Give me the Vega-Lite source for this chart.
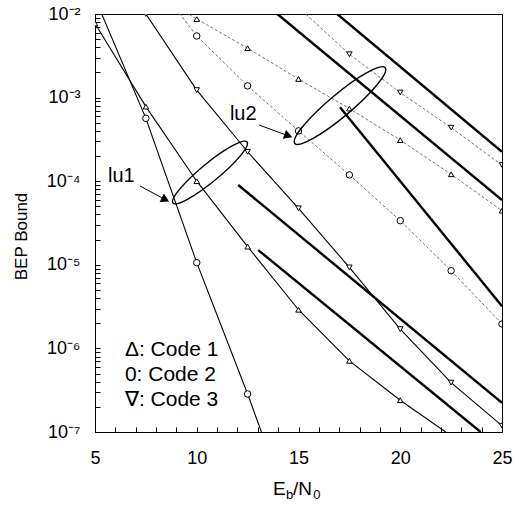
{
  "$schema": "https://vega.github.io/schema/vega-lite/v6.json",
  "width": 407,
  "height": 418,
  "autosize": "none",
  "padding": {"left": 95, "top": 14, "right": 17, "bottom": 76},
  "background": "white",
  "config": {
    "view": {"stroke": "black", "strokeWidth": 1},
    "font": "Liberation Sans",
    "axis": {"grid": false, "domainColor": "black", "tickColor": "black", "labelColor": "black", "titleColor": "black", "labelFont": "Liberation Sans", "titleFont": "Liberation Sans", "labelFontSize": 18, "tickSize": -5, "labelPadding": 20}
  },
  "datasets": {
    "curves": [
      {"s": "thin1", "grp": "thin", "code": "Code 1", "x": 5, "y": 0.0077},
      {"s": "thin1", "grp": "thin", "code": "Code 1", "x": 7.5, "y": 0.00078},
      {"s": "thin1", "grp": "thin", "code": "Code 1", "x": 10, "y": 0.0001},
      {"s": "thin1", "grp": "thin", "code": "Code 1", "x": 12.5, "y": 1.65e-5},
      {"s": "thin1", "grp": "thin", "code": "Code 1", "x": 15, "y": 2.9e-6},
      {"s": "thin1", "grp": "thin", "code": "Code 1", "x": 17.5, "y": 7.1e-7},
      {"s": "thin1", "grp": "thin", "code": "Code 1", "x": 20, "y": 2.4e-7},
      {"s": "thin1", "grp": "thin", "code": "Code 1", "x": 22.5, "y": 9e-8},
      {"s": "thin2", "grp": "thin", "code": "Code 2", "x": 5, "y": 0.0155},
      {"s": "thin2", "grp": "thin", "code": "Code 2", "x": 7.5, "y": 0.000565},
      {"s": "thin2", "grp": "thin", "code": "Code 2", "x": 10, "y": 1.06e-5},
      {"s": "thin2", "grp": "thin", "code": "Code 2", "x": 12.5, "y": 2.85e-7},
      {"s": "thin2", "grp": "thin", "code": "Code 2", "x": 15, "y": 6e-9},
      {"s": "thin3", "grp": "thin", "code": "Code 3", "x": 7.5, "y": 0.01},
      {"s": "thin3", "grp": "thin", "code": "Code 3", "x": 10, "y": 0.00123},
      {"s": "thin3", "grp": "thin", "code": "Code 3", "x": 12.5, "y": 0.000225},
      {"s": "thin3", "grp": "thin", "code": "Code 3", "x": 15, "y": 4.74e-5},
      {"s": "thin3", "grp": "thin", "code": "Code 3", "x": 17.5, "y": 9.3e-6},
      {"s": "thin3", "grp": "thin", "code": "Code 3", "x": 20, "y": 1.7e-6},
      {"s": "thin3", "grp": "thin", "code": "Code 3", "x": 22.5, "y": 3.9e-7},
      {"s": "thin3", "grp": "thin", "code": "Code 3", "x": 25, "y": 1.19e-7},
      {"s": "gray1", "grp": "gray", "code": "Code 1", "x": 7.5, "y": 0.02},
      {"s": "gray1", "grp": "gray", "code": "Code 1", "x": 10, "y": 0.0087},
      {"s": "gray1", "grp": "gray", "code": "Code 1", "x": 12.5, "y": 0.0039},
      {"s": "gray1", "grp": "gray", "code": "Code 1", "x": 15, "y": 0.00167},
      {"s": "gray1", "grp": "gray", "code": "Code 1", "x": 17.5, "y": 0.00074},
      {"s": "gray1", "grp": "gray", "code": "Code 1", "x": 20, "y": 0.00031},
      {"s": "gray1", "grp": "gray", "code": "Code 1", "x": 22.5, "y": 0.000121},
      {"s": "gray1", "grp": "gray", "code": "Code 1", "x": 25, "y": 4.44e-5},
      {"s": "gray2", "grp": "gray", "code": "Code 2", "x": 7.5, "y": 0.034},
      {"s": "gray2", "grp": "gray", "code": "Code 2", "x": 10, "y": 0.00546},
      {"s": "gray2", "grp": "gray", "code": "Code 2", "x": 12.5, "y": 0.00138},
      {"s": "gray2", "grp": "gray", "code": "Code 2", "x": 15, "y": 0.0004},
      {"s": "gray2", "grp": "gray", "code": "Code 2", "x": 17.5, "y": 0.000119},
      {"s": "gray2", "grp": "gray", "code": "Code 2", "x": 20, "y": 3.37e-5},
      {"s": "gray2", "grp": "gray", "code": "Code 2", "x": 22.5, "y": 8.5e-6},
      {"s": "gray2", "grp": "gray", "code": "Code 2", "x": 25, "y": 1.96e-6},
      {"s": "gray3", "grp": "gray", "code": "Code 3", "x": 15, "y": 0.012},
      {"s": "gray3", "grp": "gray", "code": "Code 3", "x": 17.5, "y": 0.0033},
      {"s": "gray3", "grp": "gray", "code": "Code 3", "x": 20, "y": 0.00115},
      {"s": "gray3", "grp": "gray", "code": "Code 3", "x": 22.5, "y": 0.000437},
      {"s": "gray3", "grp": "gray", "code": "Code 3", "x": 25, "y": 0.000156},
      {"s": "thick1", "grp": "thick", "code": "none", "x": 16.9, "y": 0.01},
      {"s": "thick1", "grp": "thick", "code": "none", "x": 25, "y": 0.000225},
      {"s": "thick2", "grp": "thick", "code": "none", "x": 13.96, "y": 0.01},
      {"s": "thick2", "grp": "thick", "code": "none", "x": 25, "y": 5.96e-5},
      {"s": "thick3", "grp": "thick", "code": "none", "x": 17.04, "y": 0.000765},
      {"s": "thick3", "grp": "thick", "code": "none", "x": 25, "y": 3.2e-6},
      {"s": "thick4", "grp": "thick", "code": "none", "x": 12.04, "y": 9e-5},
      {"s": "thick4", "grp": "thick", "code": "none", "x": 25, "y": 2.24e-7},
      {"s": "thick5", "grp": "thick", "code": "none", "x": 13.02, "y": 1.5e-5},
      {"s": "thick5", "grp": "thick", "code": "none", "x": 23.95, "y": 1e-7}
    ],
    "notes": [
      {"label": "lu1", "x": 5.64, "y": 9.77e-5},
      {"label": "lu2", "x": 11.63, "y": 0.00054}
    ],
    "key": [
      {"label": "Δ: Code 1", "x": 6.47, "y": 8.11e-7},
      {"label": "0: Code 2", "x": 6.47, "y": 4.07e-7},
      {"label": "∇: Code 3", "x": 6.47, "y": 2.05e-7}
    ],
    "ellipses": [
      {"name": "lu1", "x": 10.65, "y": 0.000127},
      {"name": "lu2", "x": 17.04, "y": 0.000804}
    ],
    "arrows": [
      {"name": "lu1", "x": 7.21, "y": 8.77e-5, "x2": 8.46, "y2": 6.01e-5},
      {"name": "lu2", "x": 13.06, "y": 0.00047, "x2": 14.5, "y2": 0.000349}
    ],
    "xtitle_big": [
      {"label": "E", "x": 13.75, "y": 1.76e-8},
      {"label": "/N", "x": 14.73, "y": 1.76e-8}
    ],
    "xtitle_sub": [
      {"label": "b", "x": 14.39, "y": 1.6e-8},
      {"label": "0", "x": 15.73, "y": 1.6e-8}
    ]
  },
  "encoding": {
    "x": {"field": "x", "type": "quantitative",
      "scale": {"domain": [5, 25], "nice": false, "zero": false},
      "axis": {"title": null, "values": [5,6,7,8,9,10,11,12,13,14,15,16,17,18,19,20,21,22,23,24,25],
        "labelExpr": "datum.value % 5 == 0 ? datum.label : ''", "labelPadding": 22, "labelFlush": false}},
    "y": {"field": "y", "type": "quantitative",
      "scale": {"type": "log", "domain": [1e-7, 0.01], "nice": false},
      "axis": {"title": "BEP Bound", "titleFontSize": 17, "titleFontWeight": "normal", "titleAngle": -90, "titleX": -74, "titleY": 222, "titleBaseline": "middle", "titleAlign": "center",
        "values": [1e-7,2e-7,3e-7,4e-7,5e-7,6e-7,7e-7,8e-7,9e-7,1e-6,2e-6,3e-6,4e-6,5e-6,6e-6,7e-6,8e-6,9e-6,1e-5,2e-5,3e-5,4e-5,5e-5,6e-5,7e-5,8e-5,9e-5,0.0001,0.0002,0.0003,0.0004,0.0005,0.0006,0.0007,0.0008,0.0009,0.001,0.002,0.003,0.004,0.005,0.006,0.007,0.008,0.009,0.01],
        "labelExpr": "abs(log(datum.value)/LN10 - round(log(datum.value)/LN10)) < 0.001 ? '10⁻' + substring('⁰¹²³⁴⁵⁶⁷⁸⁹', -round(log(datum.value)/LN10), -round(log(datum.value)/LN10) + 1) : ''",
        "labelPadding": 20, "labelFlush": false}}
  },
  "layer": [
    {"data": {"name": "curves"},
     "transform": [{"filter": "datum.grp == 'gray'"}],
     "mark": {"type": "line", "clip": true, "color": "#666666", "strokeWidth": 0.9, "strokeDash": [3, 2]},
     "encoding": {"detail": {"field": "s"}}},
    {"data": {"name": "curves"},
     "transform": [{"filter": "datum.grp == 'thin'"}],
     "mark": {"type": "line", "clip": true, "color": "black", "strokeWidth": 1.1},
     "encoding": {"detail": {"field": "s"}}},
    {"data": {"name": "curves"},
     "transform": [{"filter": "datum.grp == 'thick'"}],
     "mark": {"type": "line", "clip": true, "color": "black", "strokeWidth": 2.4},
     "encoding": {"detail": {"field": "s"}}},
    {"data": {"name": "curves"},
     "transform": [{"filter": "datum.grp != 'thick' && datum.code != 'Code 2'"}],
     "mark": {"type": "point", "clip": true, "filled": true, "fill": "white", "stroke": "black", "strokeWidth": 1, "size": 30, "opacity": 1},
     "encoding": {"shape": {"field": "code", "type": "nominal", "scale": {"domain": ["Code 1", "Code 2", "Code 3"], "range": ["triangle-up", "circle", "triangle-down"]}, "legend": null}}},
    {"data": {"name": "curves"},
     "transform": [{"filter": "datum.code == 'Code 2'"}],
     "mark": {"type": "point", "clip": true, "shape": "circle", "filled": true, "fill": "white", "stroke": "black", "strokeWidth": 1, "size": 42, "opacity": 1},
     "encoding": {}},
    {"data": {"name": "ellipses"},
     "transform": [{"filter": "datum.name == 'lu1'"}],
     "mark": {"type": "point", "shape": "M -1 0 A 1 0.19 0 1 1 1 0 A 1 0.19 0 1 1 -1 0 Z", "filled": false, "stroke": "black", "strokeWidth": 1.4, "size": 9216, "angle": 320.5, "opacity": 1},
     "encoding": {}},
    {"data": {"name": "ellipses"},
     "transform": [{"filter": "datum.name == 'lu2'"}],
     "mark": {"type": "point", "shape": "M -1 0 A 1 0.19 0 1 1 1 0 A 1 0.19 0 1 1 -1 0 Z", "filled": false, "stroke": "black", "strokeWidth": 1.4, "size": 13924, "angle": 320, "opacity": 1},
     "encoding": {}},
    {"data": {"name": "arrows"},
     "mark": {"type": "rule", "color": "black", "strokeWidth": 1},
     "encoding": {"x2": {"field": "x2"}, "y2": {"field": "y2"}}},
    {"data": {"name": "arrows"},
     "transform": [{"filter": "datum.name == 'lu1'"}],
     "mark": {"type": "point", "shape": "triangle-right", "filled": true, "color": "black", "size": 90, "angle": 27, "opacity": 1},
     "encoding": {"x": {"field": "x2", "type": "quantitative"}, "y": {"field": "y2", "type": "quantitative"}}},
    {"data": {"name": "arrows"},
     "transform": [{"filter": "datum.name == 'lu2'"}],
     "mark": {"type": "point", "shape": "triangle-right", "filled": true, "color": "black", "size": 90, "angle": 20, "opacity": 1},
     "encoding": {"x": {"field": "x2", "type": "quantitative"}, "y": {"field": "y2", "type": "quantitative"}}},
    {"data": {"name": "notes"},
     "mark": {"type": "text", "align": "left", "baseline": "alphabetic", "fontSize": 20, "font": "Liberation Sans", "color": "black"},
     "encoding": {"text": {"field": "label"}}},
    {"data": {"name": "key"},
     "mark": {"type": "text", "align": "left", "baseline": "alphabetic", "fontSize": 21, "font": "Liberation Sans", "color": "black"},
     "encoding": {"text": {"field": "label"}}},
    {"data": {"name": "xtitle_big"},
     "mark": {"type": "text", "align": "left", "baseline": "alphabetic", "fontSize": 19, "font": "Liberation Sans", "color": "black", "clip": false},
     "encoding": {"text": {"field": "label"}}},
    {"data": {"name": "xtitle_sub"},
     "mark": {"type": "text", "align": "left", "baseline": "alphabetic", "fontSize": 13, "font": "Liberation Sans", "color": "black", "clip": false},
     "encoding": {"text": {"field": "label"}}}
  ]
}
